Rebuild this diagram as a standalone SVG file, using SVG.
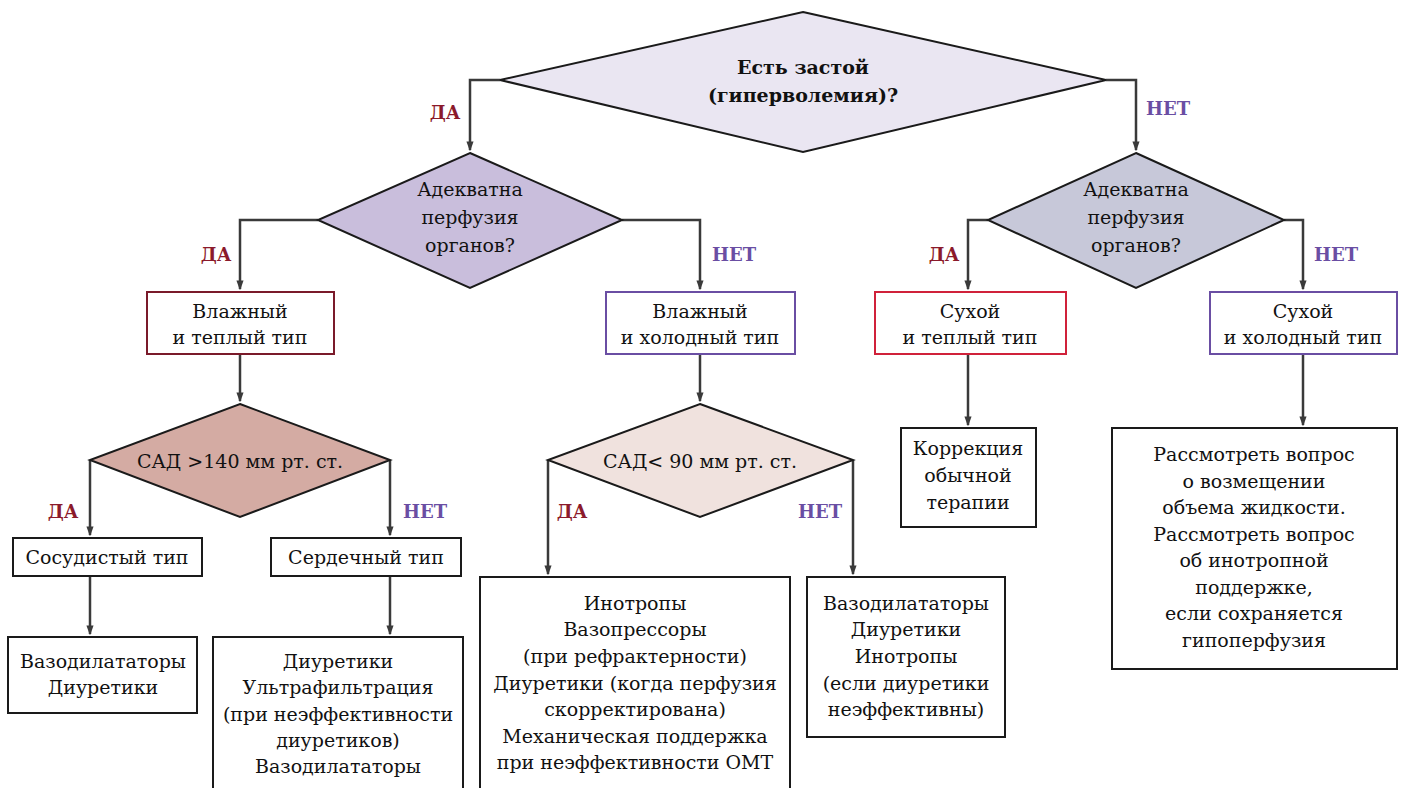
<svg xmlns="http://www.w3.org/2000/svg" width="1407" height="788" viewBox="0 0 1407 788">
<defs>
<marker id="arr" markerWidth="10" markerHeight="14" refX="12" refY="5" orient="auto" markerUnits="userSpaceOnUse" viewBox="0 0 14 10">
<path d="M0,0 L14,5 L0,10 Z" fill="#3a3a3a"/>
</marker>
</defs>
<style>
text{font-family:'DejaVu Serif','Liberation Serif',serif;font-size:19px;fill:#111;text-anchor:middle}
.b{font-weight:bold}
.da{font-weight:bold;fill:#8b1a2b;font-size:18px}
.net{font-weight:bold;fill:#6a4ea3;font-size:18px}
.c{fill:none;stroke:#3a3a3a;stroke-width:2.5;marker-end:url(#arr)}
.dm{stroke:#1a1a1a;stroke-width:2}
.bx{fill:#fff;stroke:#1a1a1a;stroke-width:2}
</style>
<rect width="1407" height="788" fill="#fff"/>

<g id="connectors">
<polyline class="c" points="500,80 470,80 470,150"/>
<polyline class="c" points="1106,80 1136,80 1136,150"/>
<polyline class="c" points="318,220 240,220 240,289"/>
<polyline class="c" points="622,220 700,220 700,289"/>
<polyline class="c" points="988,220 968,220 968,289"/>
<polyline class="c" points="1284,220 1303,220 1303,289"/>
<polyline class="c" points="240,354 240,401"/>
<polyline class="c" points="700,354 700,401"/>
<polyline class="c" points="968,354 968,425"/>
<polyline class="c" points="1303,354 1303,425"/>
<polyline class="c" points="90,460 90,535"/>
<polyline class="c" points="390,460 390,535"/>
<polyline class="c" points="548,460 548,574"/>
<polyline class="c" points="853,460 853,574"/>
<polyline class="c" points="90,576 90,634"/>
<polyline class="c" points="390,576 390,634"/>
<text class="da" x="445" y="119">ДА</text>
<text class="net" x="1168" y="115">НЕТ</text>
<text class="da" x="216" y="261">ДА</text>
<text class="net" x="734" y="261">НЕТ</text>
<text class="da" x="944" y="261">ДА</text>
<text class="net" x="1336" y="261">НЕТ</text>
<text class="da" x="63" y="518">ДА</text>
<text class="net" x="425" y="518">НЕТ</text>
<text class="da" x="572" y="518">ДА</text>
<text class="net" x="820" y="518">НЕТ</text>
</g>

<g id="q-congestion">
<polygon class="dm" points="803,12 1106,80 803,152 500,80" fill="#eae6f2"/>
<text class="b" x="803" y="74">Есть застой</text>
<text class="b" x="803" y="102">(гиперволемия)?</text>
</g>

<g id="q-perf-left">
<polygon class="dm" points="470,153 622,220 470,288 318,220" fill="#c9bedc"/>
<text x="470" y="196">Адекватна</text>
<text x="470" y="224">перфузия</text>
<text x="470" y="252">органов?</text>
</g>

<g id="q-perf-right">
<polygon class="dm" points="1136,153 1284,220 1136,288 988,220" fill="#c7c8d9"/>
<text x="1136" y="196">Адекватна</text>
<text x="1136" y="224">перфузия</text>
<text x="1136" y="252">органов?</text>
</g>

<g id="wet-warm">
<rect class="bx" x="147" y="292" width="187" height="62" style="stroke:#7a1a2a"/>
<text x="240" y="318">Влажный</text>
<text x="240" y="344">и теплый тип</text>
</g>

<g id="wet-cold">
<rect class="bx" x="606" y="292" width="189" height="62" style="stroke:#6a4ea3"/>
<text x="700" y="318">Влажный</text>
<text x="700" y="344">и холодный тип</text>
</g>

<g id="dry-warm">
<rect class="bx" x="875" y="292" width="191" height="62" style="stroke:#d0213a"/>
<text x="970" y="318">Сухой</text>
<text x="970" y="344">и теплый тип</text>
</g>

<g id="dry-cold">
<rect class="bx" x="1210" y="292" width="187" height="62" style="stroke:#6a4ea3"/>
<text x="1303" y="318">Сухой</text>
<text x="1303" y="344">и холодный тип</text>
</g>

<g id="q-sad140">
<polygon class="dm" points="240,404 390,460 240,517 90,460" fill="#d4aba3"/>
<text x="240" y="468">САД &gt;140 мм рт. ст.</text>
</g>

<g id="q-sad90">
<polygon class="dm" points="700,404 853,460 700,517 548,460" fill="#f0e2de"/>
<text x="700" y="468">САД&lt; 90 мм рт. ст.</text>
</g>

<g id="vascular">
<rect class="bx" x="13" y="538" width="189" height="38"/>
<text x="107" y="564">Сосудистый тип</text>
</g>

<g id="cardiac">
<rect class="bx" x="271" y="538" width="190" height="38"/>
<text x="366" y="564">Сердечный тип</text>
</g>

<g id="tx-vascular">
<rect class="bx" x="8" y="637" width="189" height="76"/>
<text x="103" y="668">Вазодилататоры</text>
<text x="103" y="694">Диуретики</text>
</g>

<g id="tx-cardiac">
<rect class="bx" x="213" y="637" width="250" height="160"/>
<text x="338" y="668">Диуретики</text>
<text x="338" y="694">Ультрафильтрация</text>
<text x="338" y="721">(при неэффективности</text>
<text x="338" y="747">диуретиков)</text>
<text x="338" y="773">Вазодилататоры</text>
</g>

<g id="tx-hypo">
<rect class="bx" x="480" y="577" width="310" height="220"/>
<text x="635" y="610">Инотропы</text>
<text x="635" y="636">Вазопрессоры</text>
<text x="635" y="663">(при рефрактерности)</text>
<text x="635" y="690">Диуретики (когда перфузия</text>
<text x="635" y="716">скорректирована)</text>
<text x="635" y="743">Механическая поддержка</text>
<text x="635" y="769">при неэффективности ОМТ</text>
</g>

<g id="tx-normo">
<rect class="bx" x="807" y="577" width="198" height="160"/>
<text x="906" y="610">Вазодилататоры</text>
<text x="906" y="636">Диуретики</text>
<text x="906" y="663">Инотропы</text>
<text x="906" y="690">(если диуретики</text>
<text x="906" y="716">неэффективны)</text>
</g>

<g id="tx-dry-warm">
<rect class="bx" x="901" y="428" width="135" height="99"/>
<text x="968" y="455">Коррекция</text>
<text x="968" y="482">обычной</text>
<text x="968" y="509">терапии</text>
</g>

<g id="tx-dry-cold">
<rect class="bx" x="1112" y="428" width="285" height="241"/>
<text x="1254" y="461">Рассмотреть вопрос</text>
<text x="1254" y="488">о возмещении</text>
<text x="1254" y="514">объема жидкости.</text>
<text x="1254" y="541">Рассмотреть вопрос</text>
<text x="1254" y="567">об инотропной</text>
<text x="1254" y="594">поддержке,</text>
<text x="1254" y="620">если сохраняется</text>
<text x="1254" y="647">гипоперфузия</text>
</g>
</svg>
